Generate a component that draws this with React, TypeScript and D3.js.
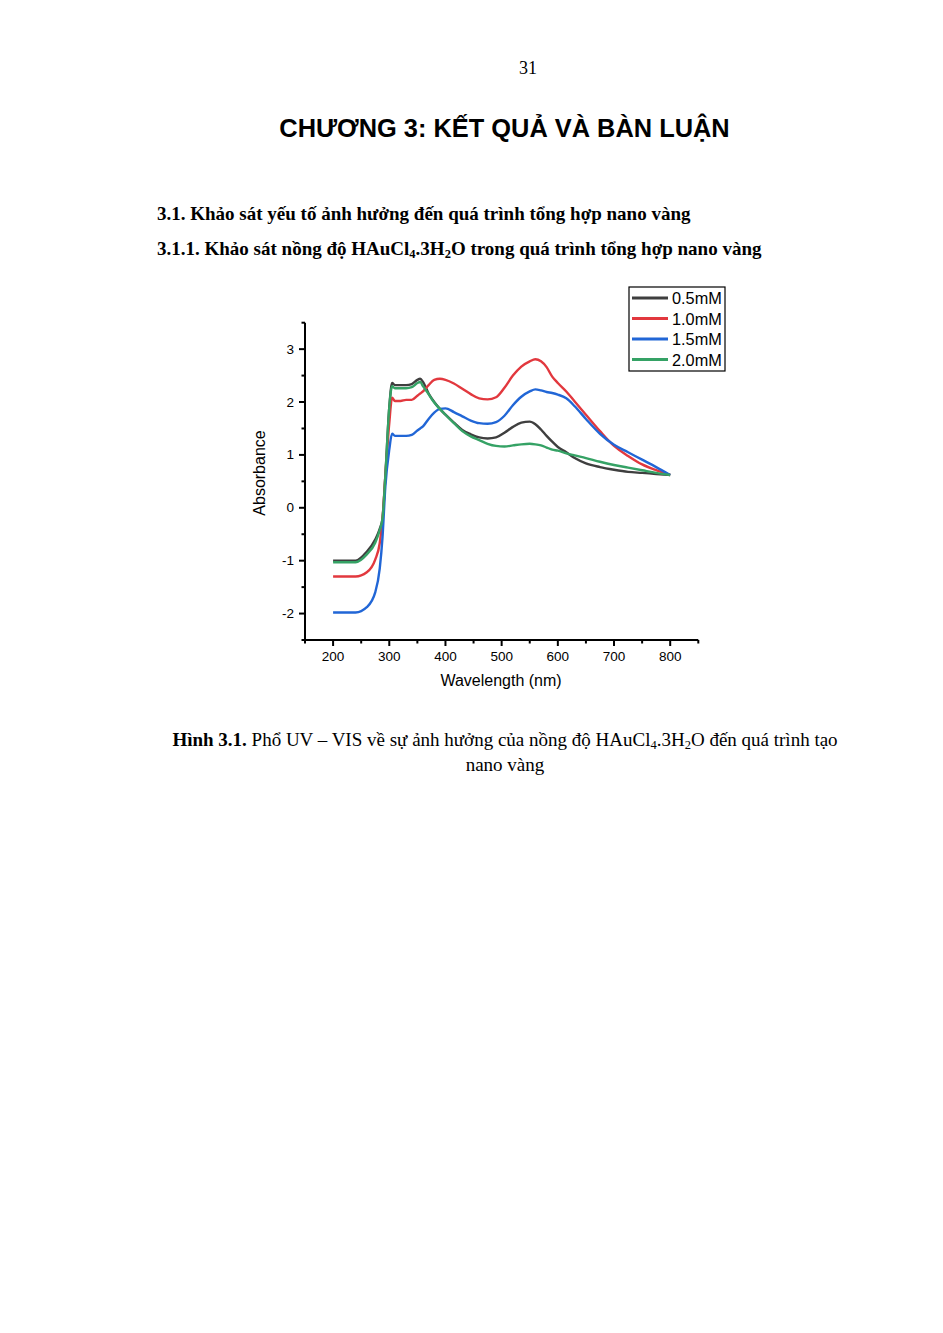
import React from "react";
import * as d3 from "d3";

const wavelengths = [200, 240, 260, 275, 283, 288, 293, 300, 305, 310, 320, 330, 340, 350, 355, 360, 370, 380, 390, 400, 415, 430, 445, 460, 475, 490, 505, 520, 535, 550, 560, 570, 580, 590, 600, 615, 630, 650, 675, 700, 725, 750, 775, 800];

const abs05 = [-1.0, -1.0, -0.83, -0.6, -0.4, -0.2, 0.6, 1.9, 2.36, 2.32, 2.32, 2.32, 2.34, 2.42, 2.44, 2.38, 2.16, 2.0, 1.87, 1.76, 1.61, 1.47, 1.39, 1.33, 1.31, 1.33, 1.42, 1.53, 1.61, 1.63, 1.58, 1.48, 1.36, 1.25, 1.15, 1.05, 0.94, 0.84, 0.77, 0.72, 0.68, 0.66, 0.64, 0.62];
const abs10 = [-1.3, -1.3, -1.22, -0.98, -0.67, -0.2, 0.6, 1.6, 2.08, 2.02, 2.02, 2.04, 2.04, 2.12, 2.16, 2.2, 2.32, 2.42, 2.44, 2.42, 2.35, 2.25, 2.15, 2.07, 2.05, 2.09, 2.27, 2.5, 2.67, 2.77, 2.81, 2.77, 2.66, 2.48, 2.36, 2.2, 2.01, 1.76, 1.45, 1.17, 0.98, 0.82, 0.71, 0.62];
const abs15 = [-1.98, -1.98, -1.88, -1.6, -1.15, -0.55, 0.4, 1.1, 1.4, 1.36, 1.36, 1.36, 1.38, 1.46, 1.5, 1.54, 1.68, 1.8, 1.87, 1.88, 1.81, 1.73, 1.65, 1.6, 1.59, 1.62, 1.74, 1.94, 2.1, 2.2, 2.24, 2.22, 2.19, 2.17, 2.14, 2.07, 1.92, 1.68, 1.4, 1.19, 1.05, 0.91, 0.77, 0.62];
const abs20 = [-1.03, -1.03, -0.88, -0.66, -0.42, -0.2, 0.6, 1.9, 2.3, 2.26, 2.26, 2.26, 2.28, 2.36, 2.38, 2.3, 2.15, 1.99, 1.87, 1.76, 1.6, 1.45, 1.35, 1.28, 1.21, 1.17, 1.16, 1.18, 1.2, 1.21, 1.2, 1.18, 1.14, 1.1, 1.08, 1.03, 0.99, 0.94, 0.87, 0.81, 0.76, 0.71, 0.66, 0.62];

const seriesNames = ["0.5mM", "1.0mM", "1.5mM", "2.0mM"];
const seriesValues = [abs05, abs10, abs15, abs20];
const seriesColors = ["#3f3f3f", "#e2383e", "#2166d6", "#35a265"];

const xMajorTicks = [200, 300, 400, 500, 600, 700, 800];
const xMinorTicks = [150, 250, 350, 450, 550, 650, 750, 850];
const yMajorTicks = [-2, -1, 0, 1, 2, 3];
const yMinorTicks = [-2.5, -1.5, -0.5, 0.5, 1.5, 2.5, 3.5];

const serif = "'Liberation Serif', 'Times New Roman', serif";
const sans = "'Liberation Sans', Arial, sans-serif";

export default function App() {
  const x = d3.scaleLinear().domain([150, 850]).range([305, 698.3]);
  const y = d3.scaleLinear().domain([-2.5, 3.5]).range([640, 322.7]);
  const line = d3
    .line<[number, number]>()
    .x((d) => x(d[0]))
    .y((d) => y(d[1]))
    .curve(d3.curveMonotoneX);

  const legendX = 629;
  const legendY = 287;
  const legendRow = 20.5;
  const bodySize = 19;
  const subSize = 12.5;

  return (
    <svg
      width={943}
      height={1333}
      style={{ position: "absolute", left: 0, top: 0, background: "#fff" }}
    >
      <rect x={0} y={0} width={943} height={1333} fill="#fff" />
      <text x={528} y={74} fontFamily={serif} fontSize={18} textAnchor="middle">31</text>
      <text x={504.5} y={137} fontFamily={sans} fontSize={25.4} fontWeight="bold" textAnchor="middle">
        CHƯƠNG 3: KẾT QUẢ VÀ BÀN LUẬN
      </text>
      <text x={157} y={220} fontFamily={serif} fontSize={bodySize} fontWeight="bold">
        3.1. Khảo sát yếu tố ảnh hưởng đến quá trình tổng hợp nano vàng
      </text>
      <text x={157} y={255} fontFamily={serif} fontSize={bodySize} fontWeight="bold">
        3.1.1. Khảo sát nồng độ HAuCl<tspan fontSize={subSize} dy={3}>4</tspan>
        <tspan dy={-3}>.3H</tspan>
        <tspan fontSize={subSize} dy={3}>2</tspan>
        <tspan dy={-3}>O trong quá trình tổng hợp nano vàng</tspan>
      </text>

      {/* curves */}
      <g fill="none" strokeWidth={2.4} strokeLinejoin="round">
        {seriesValues.map((vals, i) => (
          <path
            key={seriesNames[i]}
            d={line(wavelengths.map((w, k) => [w, vals[k]] as [number, number])) || ""}
            stroke={seriesColors[i]}
          />
        ))}
      </g>

      {/* axes */}
      <g stroke="#000" strokeWidth={2}>
        <line x1={x(150) - 1} x2={x(850)} y1={y(-2.5)} y2={y(-2.5)} />
        <line x1={x(150)} x2={x(150)} y1={y(-2.5) + 1} y2={y(3.5)} />
        {xMajorTicks.map((t) => (
          <line key={"xM" + t} x1={x(t)} x2={x(t)} y1={y(-2.5)} y2={y(-2.5) + 6} />
        ))}
        {xMinorTicks.map((t) => (
          <line key={"xm" + t} x1={x(t)} x2={x(t)} y1={y(-2.5)} y2={y(-2.5) + 3.5} />
        ))}
        {yMajorTicks.map((t) => (
          <line key={"yM" + t} x1={x(150) - 6} x2={x(150)} y1={y(t)} y2={y(t)} />
        ))}
        {yMinorTicks.map((t) => (
          <line key={"ym" + t} x1={x(150) - 3.5} x2={x(150)} y1={y(t)} y2={y(t)} />
        ))}
      </g>
      <g fontFamily={sans} fontSize={13.5} fill="#000">
        {xMajorTicks.map((t) => (
          <text key={"xl" + t} x={x(t)} y={661} textAnchor="middle">{t}</text>
        ))}
        {yMajorTicks.map((t) => (
          <text key={"yl" + t} x={294} y={y(t) + 4.5} textAnchor="end">{t}</text>
        ))}
      </g>
      <text x={501} y={686} fontFamily={sans} fontSize={16} textAnchor="middle">Wavelength (nm)</text>
      <text
        transform={`translate(265,473) rotate(-90)`}
        fontFamily={sans}
        fontSize={16}
        textAnchor="middle"
      >
        Absorbance
      </text>

      {/* legend */}
      <rect x={legendX} y={legendY} width={96} height={84} fill="#fff" stroke="#000" strokeWidth={1.2} />
      {seriesNames.map((n, i) => (
        <g key={"lg" + n}>
          <line
            x1={legendX + 3}
            x2={legendX + 39}
            y1={legendY + 11 + i * legendRow}
            y2={legendY + 11 + i * legendRow}
            stroke={seriesColors[i]}
            strokeWidth={3}
          />
          <text x={legendX + 43} y={legendY + 17 + i * legendRow} fontFamily={sans} fontSize={16.3}>
            {n}
          </text>
        </g>
      ))}

      {/* caption */}
      <text x={505} y={746} fontFamily={serif} fontSize={bodySize} textAnchor="middle">
        <tspan fontWeight="bold">Hình 3.1.</tspan> Phổ UV – VIS về sự ảnh hưởng của nồng độ HAuCl
        <tspan fontSize={subSize} dy={3}>4</tspan>
        <tspan dy={-3}>.3H</tspan>
        <tspan fontSize={subSize} dy={3}>2</tspan>
        <tspan dy={-3}>O đến quá trình tạo</tspan>
      </text>
      <text x={505} y={771} fontFamily={serif} fontSize={bodySize} textAnchor="middle">nano vàng</text>
    </svg>
  );
}
